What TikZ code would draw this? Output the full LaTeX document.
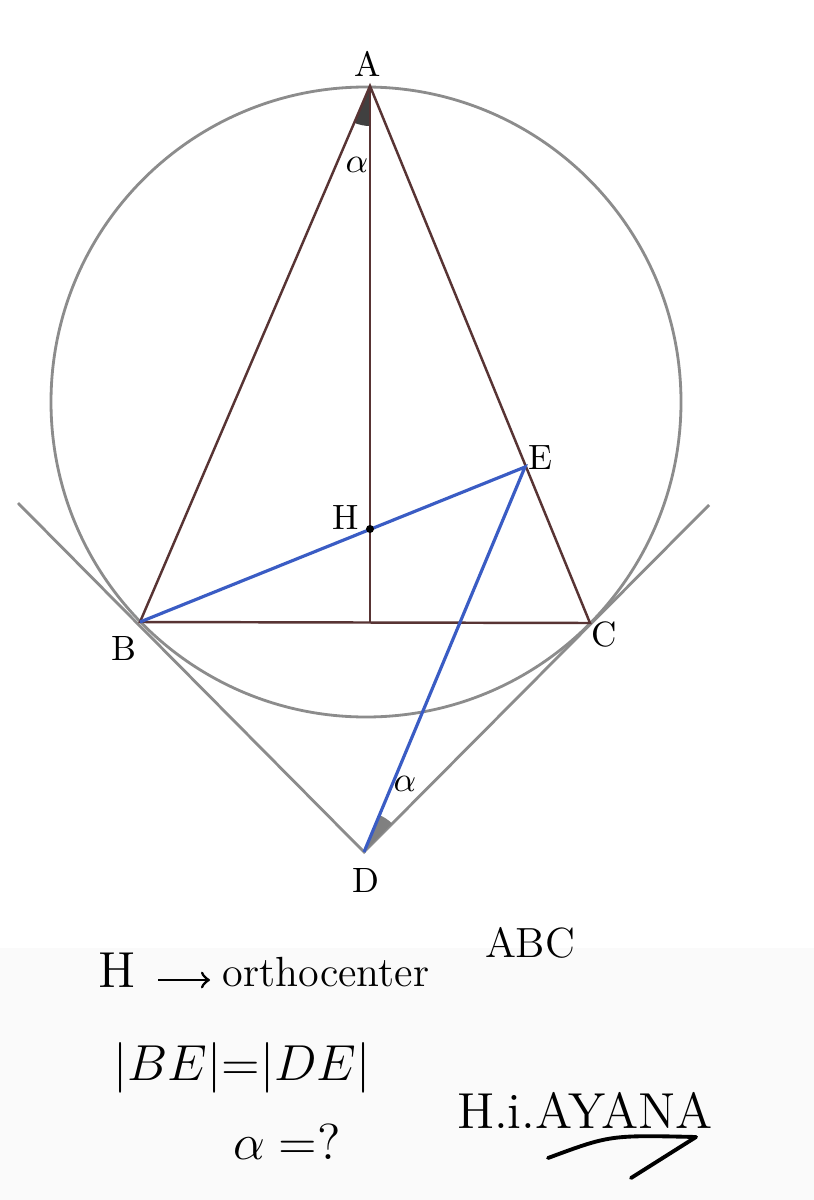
\documentclass[tikz,border=0pt]{standalone}
\usetikzlibrary{angles}
\definecolor{tribrown}{RGB}{88,52,52}
\definecolor{segblue}{RGB}{58,92,196}
\definecolor{circgray}{RGB}{140,140,140}
\tikzset{side/.style={tribrown, line width=0.7pt}}
\tikzset{seg/.style={segblue, line width=0.9pt}}
\tikzset{tang/.style={circgray, line width=0.8pt}}
\tikzset{hand/.style={inner sep=0pt}}

\begin{document}
\begin{tikzpicture}[x=0.1mm, y=-0.1mm]
    \fill[white] (0,0) rectangle (814,1200);
    \fill[black!2] (0,948) rectangle (814,1200);
    \useasboundingbox (0,0) rectangle (814,1200);
    % points
    \coordinate (O) at (366,402);
    \coordinate (A) at (370,86);
    \coordinate (B) at (140,622);
    \coordinate (C) at (590,623);
    \coordinate (F) at (370,622);
    \coordinate (H) at (370,529);
    \coordinate (E) at (525,467);
    \coordinate (D) at (364,852);
    \coordinate (TL) at (18,503);
    \coordinate (TR) at (709,505);
    % circle and tangents
    \draw[tang] (O) circle[radius=31.5mm];
    \draw[tang] (TL) -- (D) -- (TR);
    % angles
    \pic[fill=black!75, angle radius=4mm] {angle=B--A--F};
    \pic[fill=black!50, angle radius=4mm] {angle=C--D--E};
    % triangle
    \draw[side] (A) -- (B) -- (C) -- cycle;
    \draw[side] (A) -- (F);
    \draw[seg] (B) -- (E) -- (D);
    \fill (H) circle[radius=0.4mm];
    % labels
    \node[hand] (labA) at (368,64) {A};
    \node[hand] (labB) at (124,648) {B};
    \node[hand] (labC) at (604,634) {C};
    \node[hand] (labD) at (366,880) {D};
    \node[hand] (labE) at (540,458) {E};
    \node[hand] (labH) at (346,517) {H};
    \node[hand] (alA) at (357,165) {$\alpha$};
    \node[hand] (alD) at (405,784) {$\alpha$};
    % notes
    \node[hand, font=\Large] (noteH) at (117,970) {H};
    \coordinate (arrS) at (158,980);
    \coordinate (arrE) at (210,980);
    \draw[->, line width=0.8pt] (arrS) -- (arrE);
    \node[hand, font=\large, anchor=west] (noteO) at (222,972) {orthocenter};
    \node[hand, font=\large] (noteT) at (530,943) {ABC};
    \node[hand, font=\Large] (noteBE) at (242,1068) {$|BE|{=}|DE|$};
    \node[hand, font=\Large] (noteA) at (287,1142) {$\alpha=?$};
    \node[hand, font=\Large] (sign) at (585,1110) {H.i.AYANA};
    \coordinate (sw1) at (548,1158);
    \coordinate (sw2) at (610,1135);
    \coordinate (sw3) at (696,1137);
    \coordinate (sw4) at (631,1178);
    \draw[line width=1.1pt, line cap=round, line join=round] (sw1) .. controls (sw2) .. (sw3) -- (sw4);
\end{tikzpicture}
\end{document}
